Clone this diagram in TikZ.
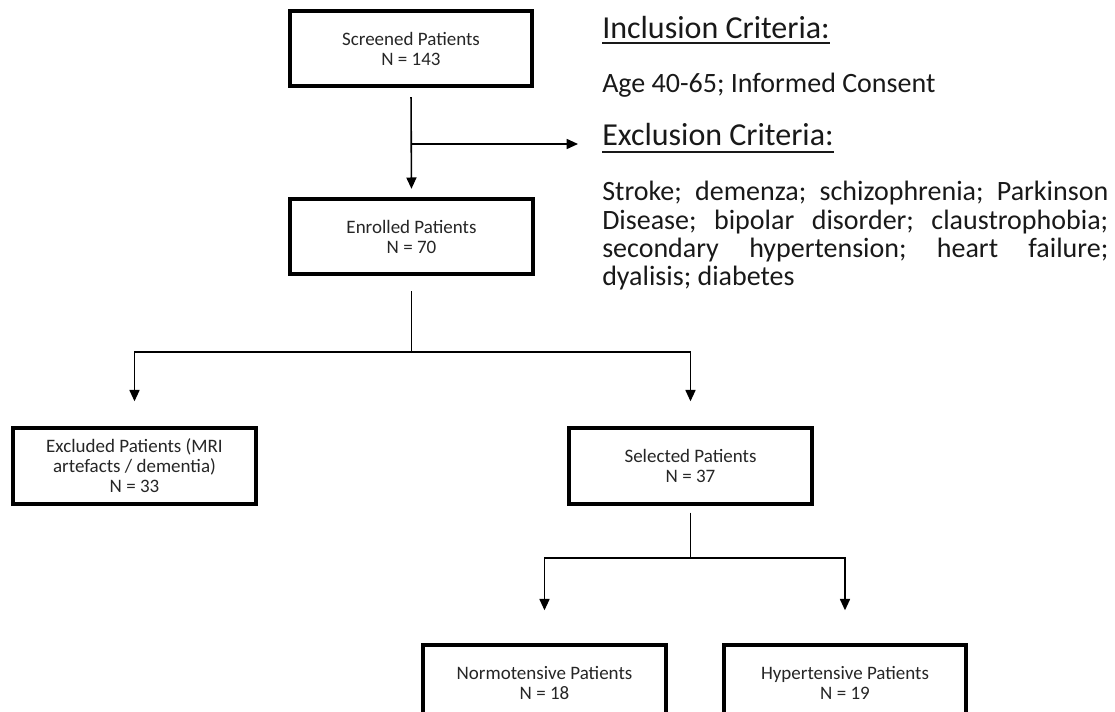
\documentclass[tikz,border=0pt]{standalone}
\usepackage{fontspec}
\setmainfont{Carlito}
\usetikzlibrary{arrows.meta}
\frenchspacing

\begin{document}
\begin{tikzpicture}[x=0.75pt,y=-0.75pt,
    box/.style={draw=black, line width=3pt, fill=white,
      minimum width=182pt, minimum height=56.5pt, inner sep=0pt,
      align=center, text=black!85,
      font=\fontsize{14.25}{15}\selectfont},
    link/.style={line width=1.2pt, draw=black},
    arr/.style={link, -{Triangle[length=8.5pt,width=7.5pt]}},
    heading/.style={anchor=base west, inner sep=0pt, text=black!90,
      font=\fontsize{24}{28}\selectfont},
    body/.style={anchor=base west, inner sep=0pt, text=black!90,
      font=\fontsize{21}{21.2}\selectfont},
    uline/.style={line width=1.5pt, draw=black!90}]

  \useasboundingbox (0,0) rectangle (1115,712);
  \clip (0,0) rectangle (1115,712);

  % flow boxes
  \node[box] (screen) at (411,48.5) {Screened Patients\\N = 143};
  \node[box] (enrol)  at (411.5,236.5) {Enrolled Patients\\N = 70};
  \node[box] (excl)   at (134.5,466) {Excluded Patients (MRI\\artefacts / dementia)\\N = 33};
  \node[box] (sel)    at (690.5,466) {Selected Patients\\N = 37};
  \node[box] (normo)  at (544.5,683) {Normotensive Patients\\N = 18};
  \node[box] (hyper)  at (845,683) {Hypertensive Patients\\N = 19};

  % criteria text
  \node[heading] (inc) at (602,39) {Inclusion Criteria:};
  \draw[uline] ([yshift=-3pt]inc.base west) -- ([yshift=-3pt]inc.base east);
  \node[body] (inctext) at (602,93) {Age 40-65; Informed Consent};
  \node[heading] (exc) at (602,146) {Exclusion Criteria:};
  \draw[uline] ([yshift=-4.5pt]exc.base west) -- ([yshift=-4.5pt]exc.base east);
  \node[body, text width=379.5pt, align=justify] (exctext) at (602,201)
    {\hyphenpenalty=10000 Stroke; demenza; schizophrenia; Parkinson\linebreak
     Disease; bipolar disorder; claustrophobia;\linebreak
     secondary hypertension; heart failure;\linebreak
     dyalisis; diabetes};

  % screened -> enrolled, with branch to the exclusion criteria
  \coordinate (br) at (411,144);
  \coordinate (exin) at (578,144);
  \draw[arr, shorten <=6.75pt, shorten >=6pt] (screen.south) -- (enrol.north);
  \draw[arr] (br) -- (exin);

  % enrolled -> excluded / selected
  \coordinate (j1) at (411.5,352);
  \draw[link, shorten <=11.25pt] (enrol.south) -- (j1);
  \draw[arr, shorten >=18.75pt] (j1) -| (excl.north);
  \draw[arr, shorten >=18.75pt] (j1) -| (sel.north);

  % selected -> normotensive / hypertensive
  \coordinate (j2) at (690.5,558);
  \draw[link, shorten <=5.25pt] (sel.south) -- (j2);
  \draw[arr, shorten >=24.75pt] (j2) -| (normo.north);
  \draw[arr, shorten >=24.75pt] (j2) -| (hyper.north);
\end{tikzpicture}
\end{document}
